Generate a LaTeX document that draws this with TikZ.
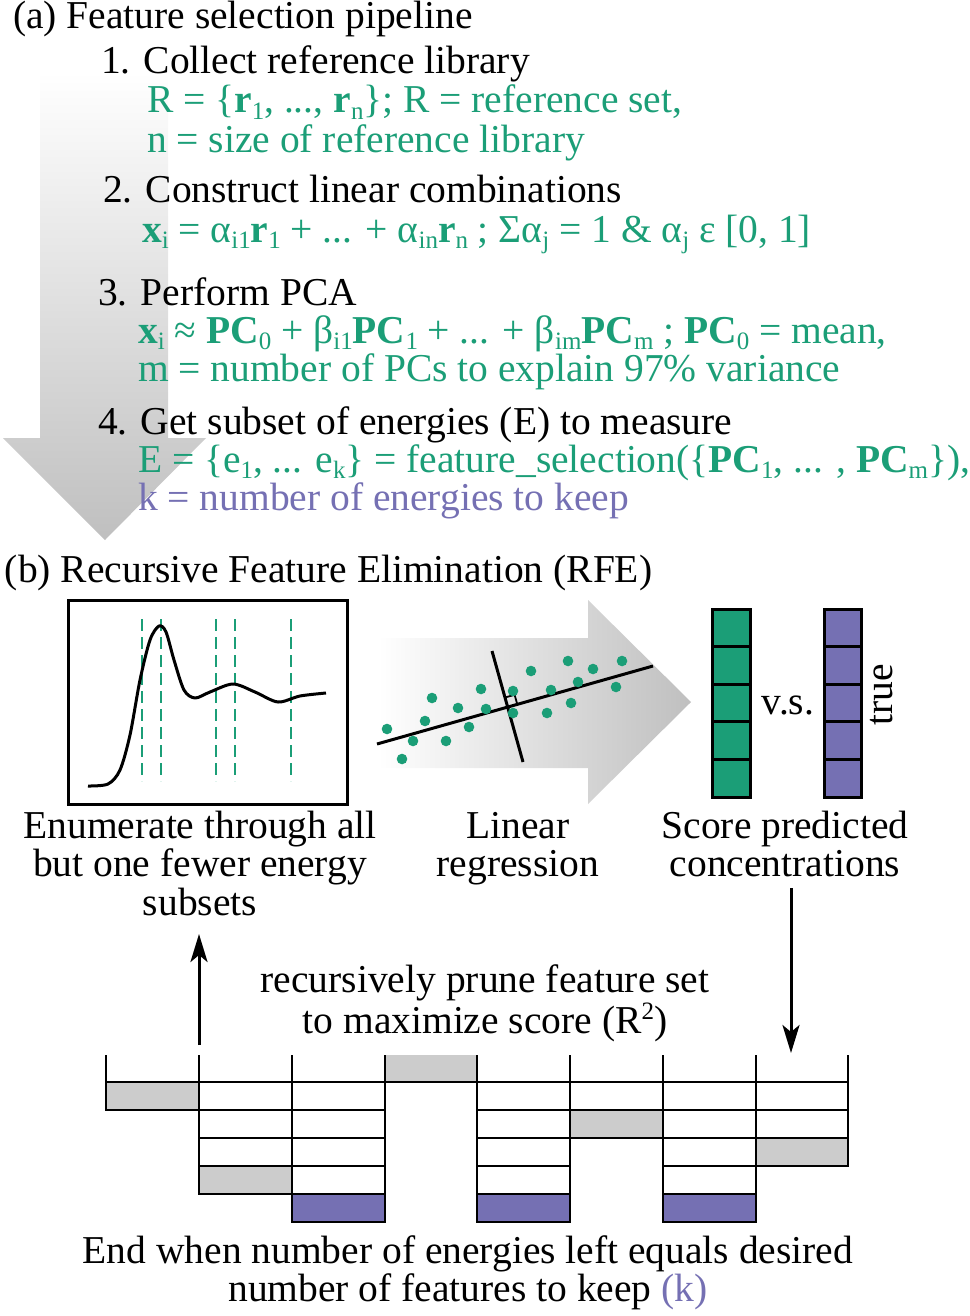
\documentclass[tikz,border=0pt]{standalone}
\usepackage{fontspec}
\setmainfont{Liberation Serif}
\usetikzlibrary{arrows.meta}
\definecolor{tgreen}{HTML}{1B9E77}
\definecolor{tpurple}{HTML}{7570B3}
\definecolor{cellgray}{HTML}{CCCCCC}
\newcommand\dn[1]{\raisebox{-6.5pt}{\fontsize{25}{25}\selectfont #1}}
\newcommand\upr[1]{\raisebox{14pt}{\fontsize{25}{25}\selectfont #1}}
\newcommand\stk[3]{{\fontsize{39.5}{#1}\selectfont\begin{tabular}[t]{@{}#2@{}}#3\end{tabular}}}
\begin{document}
\begin{tikzpicture}[x=1pt,y=-1pt,
  every node/.style={inner sep=0pt, outer sep=0pt, font=\fontsize{39.5}{40}\selectfont},
  lbl/.style={anchor=base west},
  ctr/.style={anchor=base},
  grn/.style={text=tgreen},
  prp/.style={text=tpurple},
  heavy/.style={line width=3pt},
  gridline/.style={line width=2.8pt},
  vecarrow/.style={line width=3pt, -{Stealth[length=28pt,width=17pt,inset=7pt]}},
]
\useasboundingbox (0,0) rectangle (969,1316);

% ---------- (a) big vertical gradient arrow ----------
\shade[top color=white, bottom color=gray!50]
  (40,72) -- (168,72) -- (168,438) -- (206,438) -- (105,540) -- (3,438) -- (40,438) -- cycle;

% ---------- (a) texts ----------
\node[lbl] (ta) at (13,29) {(a) Feature selection pipeline};
\node[lbl] (t1) at (101,74) {1. Collect reference library};
\node[lbl,grn] (t1g) at (147,113) {\stk{39}{l}{R = \{\textbf{r}\dn{1}, ..., \textbf{r}\dn{n}\}; R = reference set,\\n = size of reference library}};
\node[lbl] (t2) at (103,203) {2. Construct linear combinations};
\node[lbl,grn] (t2a) at (142,242) {\textbf{x}\dn{i} = α\dn{i1}\textbf{r}\dn{1} + ... + α\dn{in}\textbf{r}\dn{n} ; Σα\dn{j} = 1 \& α\dn{j} ε [0, 1]};
\node[lbl] (t3) at (98,305) {3. Perform PCA};
\node[lbl,grn] (t3g) at (138,343) {\stk{37}{l}{\textbf{x}\dn{i} ≈ \textbf{PC}\dn{0} + β\dn{i1}\textbf{PC}\dn{1} + ... + β\dn{im}\textbf{PC}\dn{m} ; \textbf{PC}\dn{0} = mean,\\m = number of PCs to explain 97\% variance}};
\node[lbl] (t4) at (98,434) {4. Get subset of energies (E) to measure};
\node[lbl,grn] (t4g) at (138,472) {\stk{37}{l}{E = \{e\dn{1}, ... e\dn{k}\} = feature\_selection(\{\textbf{PC}\dn{1}, ... , \textbf{PC}\dn{m}\}),\\\textcolor{tpurple}{k = number of energies to keep}}};

% ---------- (b) ----------
\node[lbl] (tb) at (5,582) {(b) Recursive Feature Elimination (RFE)};

% spectrum box
\draw[heavy] (68,600) rectangle (347,804);
\foreach \x in {142,161,216,235,291}
  \draw[tgreen, line width=2.5pt, dash pattern=on 12pt off 6pt] (\x,619) -- (\x,781);
\draw[heavy, line join=round] plot[smooth, tension=0.5] coordinates {
  (88,786) (108,784) (120,770) (130,735) (140,680) (150,640) (159,626) (166,632)
  (174,660) (184,690) (195,698) (210,692) (233,684) (255,692) (278,702) (300,696) (326,693)};

% horizontal gradient arrow
\shade[left color=white, right color=gray!50]
  (378,638) -- (588,638) -- (588,600) -- (691,702) -- (588,804) -- (588,768) -- (378,768) -- cycle;

% regression
\coordinate (rg1) at (377,744); \coordinate (rg2) at (653,666);
\coordinate (pp1) at (492,651); \coordinate (pp2) at (523,762);
\draw[heavy] (rg1) -- (rg2);
\draw[heavy] (pp1) -- (pp2);
\draw[line width=1.8pt] (505.0,697.5) -- (514.6,694.8) -- (517.3,704.4);
\foreach \p in {(387,729),(402,759),(413,741),(425,721),(432,698),(446,741),(458,708),
  (469,727),(481,689),(486,709),(513,691),(513,713),(531,671),(547,713),(551,690),
  (568,661),(571,703),(578,682),(593,669),(616,687),(622,661)}
  \fill[tgreen] \p circle (5.3);

% predicted / true columns
\foreach \i in {0,...,4} {
  \draw[heavy, fill=tgreen] (712,{609+37.6*\i}) rectangle (750,{609+37.6*(\i+1)});
  \draw[heavy, fill=tpurple] (824,{609+37.6*\i}) rectangle (861,{609+37.6*(\i+1)});
}
\node (vs) at (788,705) {v.s.};
\node[rotate=90] (tr) at (882,695) {true};

% labels
\node[ctr] (enum) at (200,838) {\stk{37}{c}{Enumerate through all\\but one fewer energy\\subsets}};
\node[ctr] (linreg) at (518,838) {\stk{38}{c}{Linear\\regression}};
\node[ctr] (score) at (785,838) {\stk{38}{c}{Score predicted\\concentrations}};
\node[ctr] (prune) at (485,992) {\stk{35}{c}{recursively prune feature set\\to maximize score (R\upr{2})}};

% arrows
\coordinate (ua) at (199,1045); \coordinate (ub) at (199,934);
\coordinate (da) at (791,888);  \coordinate (db) at (791,1053);
\draw[vecarrow] (ua) -- (ub);
\draw[vecarrow] (da) -- (db);

% ---------- elimination grid ----------
\fill[cellgray] (106,1082) rectangle (199,1110);
\fill[cellgray] (199,1166) rectangle (292,1194);
\fill[tpurple]  (292,1194) rectangle (385,1222);
\fill[cellgray] (385,1055) rectangle (477,1082);
\fill[tpurple]  (477,1194) rectangle (570,1222);
\fill[cellgray] (570,1110) rectangle (663,1138);
\fill[tpurple]  (663,1194) rectangle (756,1222);
\fill[cellgray] (756,1138) rectangle (848,1166);
\foreach \xa/\xb/\n in {106/199/1, 199/292/4, 292/385/5, 477/570/5, 570/663/2, 663/756/5, 756/848/3} {
  \foreach \r in {1,...,\n}
    \draw[gridline] (\xa,{1054+28*\r}) rectangle (\xb,{1082+28*\r});
}
\foreach \x in {106,199,292,385,477,570,663,756,848}
  \draw[gridline] (\x,1055) -- (\x,1082);
\draw[gridline] (106,1082) -- (848,1082);

\node[ctr] (endtxt) at (468,1263) {\stk{36}{c}{End when number of energies left equals desired\\number of features to keep \textcolor{tpurple}{(k)}}};
\end{tikzpicture}
\end{document}
